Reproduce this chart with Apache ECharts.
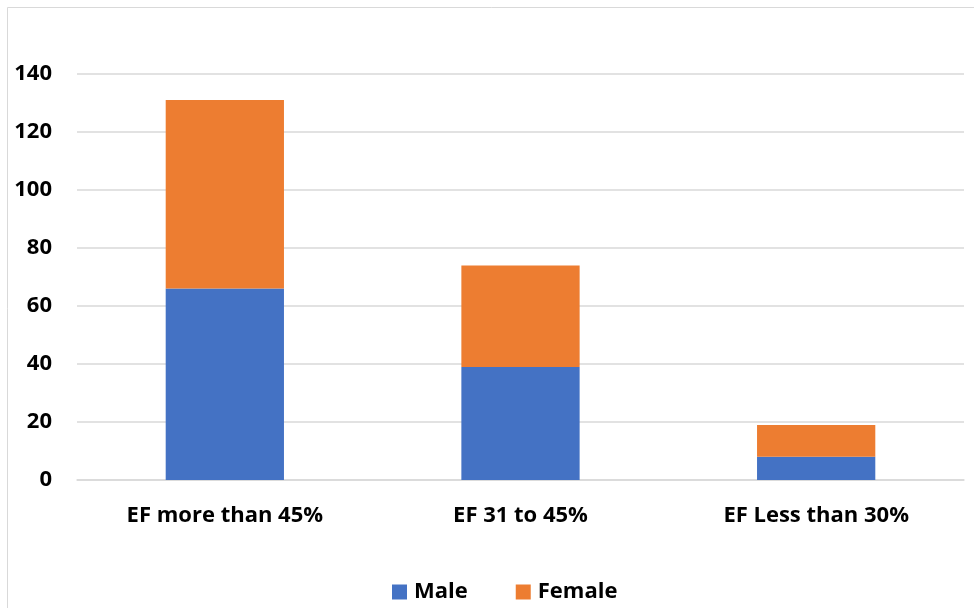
<!DOCTYPE html>
<html>
<head>
<meta charset="utf-8">
<script src="https://cdn.jsdelivr.net/npm/echarts@6/dist/echarts.min.js"></script>
<style>
  html, body { margin: 0; padding: 0; background: #fff; }
  #chart { width: 974px; height: 608px; }
</style>
</head>
<body>
<div id="chart"></div>
<script>
// Patient counts by ejection fraction group, split by sex
const categories = ['EF more than 45%', 'EF 31 to 45%', 'EF Less than 30%'];
const maleCounts = [66, 39, 8];
const femaleCounts = [65, 35, 11];
const seriesNames = ['Male', 'Female'];

const FONT = '"Open Sans", sans-serif';
const chart = echarts.init(document.getElementById('chart'), null, { renderer: 'canvas' });

chart.setOption({
  animation: false,
  backgroundColor: '#ffffff',
  graphic: [{
    type: 'rect',
    silent: true,
    shape: { x: 7.5, y: 7.5, width: 1000, height: 700 },
    style: { fill: 'none', stroke: '#d9d9d9', lineWidth: 1 }
  }],
  grid: { left: 77, right: 10, top: 74, bottom: 128, containLabel: false },
  legend: {
    bottom: 0,
    left: 387,
    itemWidth: 15,
    itemHeight: 15,
    itemGap: 48,
    icon: 'rect',
    textStyle: { fontFamily: FONT, fontWeight: 'bold', fontSize: 22, color: '#000', padding: [0, 0, 0, 2] },
    data: seriesNames
  },
  xAxis: {
    type: 'category',
    data: categories,
    axisLine: { show: true, lineStyle: { color: '#d9d9d9', width: 1.5 } },
    axisTick: { show: false },
    axisLabel: { fontFamily: FONT, fontWeight: 'bold', fontSize: 22, color: '#000', margin: 25 }
  },
  yAxis: {
    type: 'value',
    min: 0,
    max: 140,
    interval: 20,
    axisLine: { show: false },
    axisTick: { show: false },
    splitLine: { lineStyle: { color: '#d9d9d9', width: 1.5 } },
    axisLabel: { fontFamily: FONT, fontWeight: 'bold', fontSize: 22, color: '#000', margin: 25 }
  },
  series: [
    {
      name: seriesNames[0],
      type: 'bar',
      stack: 'total',
      barCategoryGap: '60%',
      itemStyle: { color: '#4472c4' },
      data: maleCounts
    },
    {
      name: seriesNames[1],
      type: 'bar',
      stack: 'total',
      barCategoryGap: '60%',
      itemStyle: { color: '#ed7d31' },
      data: femaleCounts
    }
  ]
});
</script>
</body>
</html>
